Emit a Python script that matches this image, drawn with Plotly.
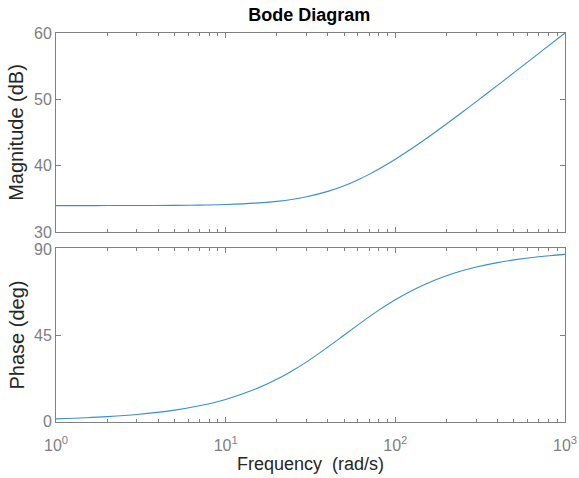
import plotly.graph_objects as go
from plotly.subplots import make_subplots

# Values
freq = [1, 1.5, 2, 3, 5, 7, 10, 15, 20, 25, 30, 40, 50, 60, 70, 80, 100, 120, 150, 200, 250, 300, 400, 500, 700, 1000]
mag_db = [33.98, 33.98, 33.99, 33.99, 34.02, 34.06, 34.15, 34.35, 34.62, 34.95, 35.32, 36.13, 36.99, 37.85, 38.69, 39.49,
          40.97, 42.28, 43.98, 46.29, 48.13, 49.66, 52.11, 54.02, 56.92, 60.01]
phase_deg = [1.15, 1.72, 2.29, 3.43, 5.71, 7.97, 11.31, 16.70, 21.80, 26.57, 30.96, 38.66, 45.0, 50.19, 54.46, 57.99,
             63.43, 67.38, 71.57, 75.96, 78.69, 80.54, 82.87, 84.29, 85.91, 87.14]

x_tickvals = [1, 10, 100, 1000]
x_ticktext = ["10<sup>0</sup>", "10<sup>1</sup>", "10<sup>2</sup>", "10<sup>3</sup>"]
minor_vals = [m * d for d in (1, 10, 100) for m in range(2, 10)]
mag_ticks = [30, 40, 50, 60]
phase_ticks = [0, 45, 90]

LINE = "#3a8fd2"
AX = "#808080"
TXT = "#262626"
FONT = "Liberation Sans, Arial, sans-serif"

fig = make_subplots(rows=2, cols=1, shared_xaxes=True)
fig.add_trace(go.Scatter(x=freq, y=mag_db, mode="lines", line=dict(color=LINE, width=1.1, shape="spline"),
                         showlegend=False), row=1, col=1)
fig.add_trace(go.Scatter(x=freq, y=phase_deg, mode="lines", line=dict(color=LINE, width=1.1, shape="spline"),
                         showlegend=False), row=2, col=1)

xcommon = dict(type="log", range=[0, 3], showgrid=False, zeroline=False, showline=True, linecolor=AX, linewidth=1,
               mirror="ticks", ticks="inside", ticklen=5, tickcolor=AX, tickvals=x_tickvals, automargin=False,
               minor=dict(tickvals=minor_vals, ticks="inside", ticklen=3, tickcolor=AX, showgrid=False),
               tickfont=dict(family=FONT, size=16, color=AX))
fig.update_xaxes(**xcommon)
fig.update_xaxes(showticklabels=False, row=1, col=1)
fig.update_xaxes(ticktext=x_ticktext, showticklabels=True, ticklabelstandoff=9, row=2, col=1,
                 title=dict(text="Frequency  (rad/s)", font=dict(family=FONT, size=18, color=TXT), standoff=2))

ycommon = dict(showgrid=False, zeroline=False, showline=True, linecolor=AX, linewidth=1, mirror="ticks",
               ticks="inside", ticklen=5, tickcolor=AX, automargin=False,
               tickfont=dict(family=FONT, size=16, color=AX))
fig.update_yaxes(**ycommon)
fig.update_yaxes(range=[30, 60], tickvals=mag_ticks, row=1, col=1,
                 title=dict(text="Magnitude (dB)", font=dict(family=FONT, size=20, color=TXT), standoff=4))
fig.update_yaxes(range=[-0.5, 90.5], tickvals=phase_ticks, row=2, col=1,
                 title=dict(text="Phase (deg)", font=dict(family=FONT, size=20, color=TXT), standoff=4))

fig.update_layout(
    width=579, height=478,
    margin=dict(l=56, r=14, t=33, b=56),
    paper_bgcolor="white", plot_bgcolor="white",
    title=dict(text="<b>Bode Diagram</b>", x=0.534, xanchor="center", y=0.97, yanchor="middle",
               font=dict(family=FONT, size=18, color="#000000")),
    yaxis=dict(domain=[0.4884, 1]),
    yaxis2=dict(domain=[0, 0.4473]),
)

fig.write_html("out.html")
